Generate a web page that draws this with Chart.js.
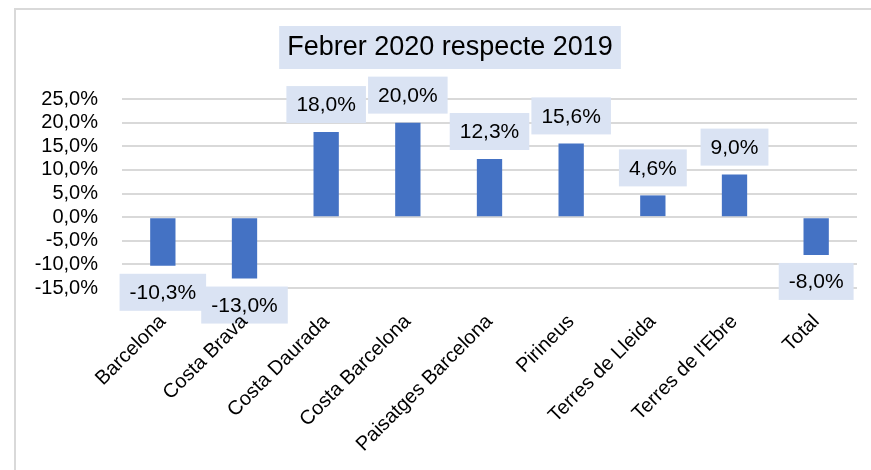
<!DOCTYPE html>
<html>
<head>
<meta charset="utf-8">
<script src="https://cdn.jsdelivr.net/npm/chart.js@4"></script>
<style>
  html, body { margin: 0; padding: 0; background: #fff; }
  #wrap { width: 871px; height: 470px; position: relative; }
</style>
</head>
<body>
<div id="wrap"><canvas id="grafic" width="871" height="470"></canvas></div>
<script>
var titol = 'Febrer 2020 respecte 2019';
var zones = ['Barcelona', 'Costa Brava', 'Costa Daurada', 'Costa Barcelona', 'Paisatges Barcelona',
  'Pirineus', 'Terres de Lleida', "Terres de l'Ebre", 'Total'];
var variacio = [-10.3, -13.0, 18.0, 20.0, 12.3, 15.6, 4.6, 9.0, -8.0];
var escalaY = { min: -15, max: 25, pas: 5 };

var FONT = 'Liberation Sans, Arial, sans-serif';

function pct(v) {
  return v.toFixed(1).replace('.', ',') + '%';
}

// marc i titol
var fons = {
  id: 'fons',
  beforeDraw(chart) {
    var ctx = chart.ctx;
    ctx.save();
    ctx.strokeStyle = '#d9d9d9';
    ctx.lineWidth = 2;
    ctx.beginPath();
    ctx.moveTo(15, 470);
    ctx.lineTo(15, 9);
    ctx.lineTo(871, 9);
    ctx.stroke();

    ctx.font = '27px ' + FONT;
    var w = ctx.measureText(titol).width;
    var cx = 450, cy = 48;
    ctx.fillStyle = '#dae3f3';
    ctx.fillRect(cx - w / 2 - 8, 26, w + 16, 43);
    ctx.fillStyle = '#000';
    ctx.textAlign = 'center';
    ctx.textBaseline = 'middle';
    ctx.fillText(titol, cx, cy);
    ctx.restore();
  }
};

// etiquetes de dades amb fons blau clar (tapen la graella)
var etiquetes = {
  id: 'etiquetes',
  afterDatasetsDraw(chart) {
    var ctx = chart.ctx;
    var meta = chart.getDatasetMeta(0);
    ctx.save();
    ctx.font = '21px ' + FONT;
    ctx.textAlign = 'center';
    ctx.textBaseline = 'middle';
    meta.data.forEach(function (bar, i) {
      var v = variacio[i];
      var txt = pct(v);
      var bw = ctx.measureText(txt).width + 20;
      var h = 37;
      var top = v >= 0 ? bar.y - 9 - h : bar.y + 8;
      ctx.fillStyle = '#dae3f3';
      ctx.fillRect(bar.x - bw / 2, top, bw, h);
      ctx.fillStyle = '#000';
      ctx.fillText(txt, bar.x, top + h / 2 + 1);
    });
    ctx.restore();
  }
};

new Chart(document.getElementById('grafic'), {
  type: 'bar',
  data: {
    labels: zones,
    datasets: [{
      data: variacio,
      backgroundColor: '#4472c4',
      borderWidth: 0,
      categoryPercentage: 1,
      barPercentage: 0.31
    }]
  },
  options: {
    responsive: false,
    animation: false,
    layout: { padding: { top: 99, right: 14, left: 0, bottom: 0 } },
    plugins: {
      legend: { display: false },
      tooltip: { enabled: false },
      title: { display: false }
    },
    scales: {
      x: {
        grid: { display: false, drawTicks: false },
        border: { display: false },
        ticks: {
          z: 1,
          color: '#000',
          font: { size: 20, family: FONT },
          minRotation: 45,
          maxRotation: 45,
          padding: 22,
          autoSkip: false
        },
        afterFit(scale) { scale.height = 182; }
      },
      y: {
        min: escalaY.min,
        max: escalaY.max,
        grid: { color: '#d9d9d9', lineWidth: 2, drawTicks: false },
        border: { display: false },
        ticks: {
          stepSize: escalaY.pas,
          autoSkip: false,
          color: '#000',
          font: { size: 20, family: FONT },
          padding: 24,
          callback: function (v) { return pct(v); }
        },
        afterFit(scale) { scale.width = 122; }
      }
    }
  },
  plugins: [fons, etiquetes]
});
</script>
</body>
</html>
